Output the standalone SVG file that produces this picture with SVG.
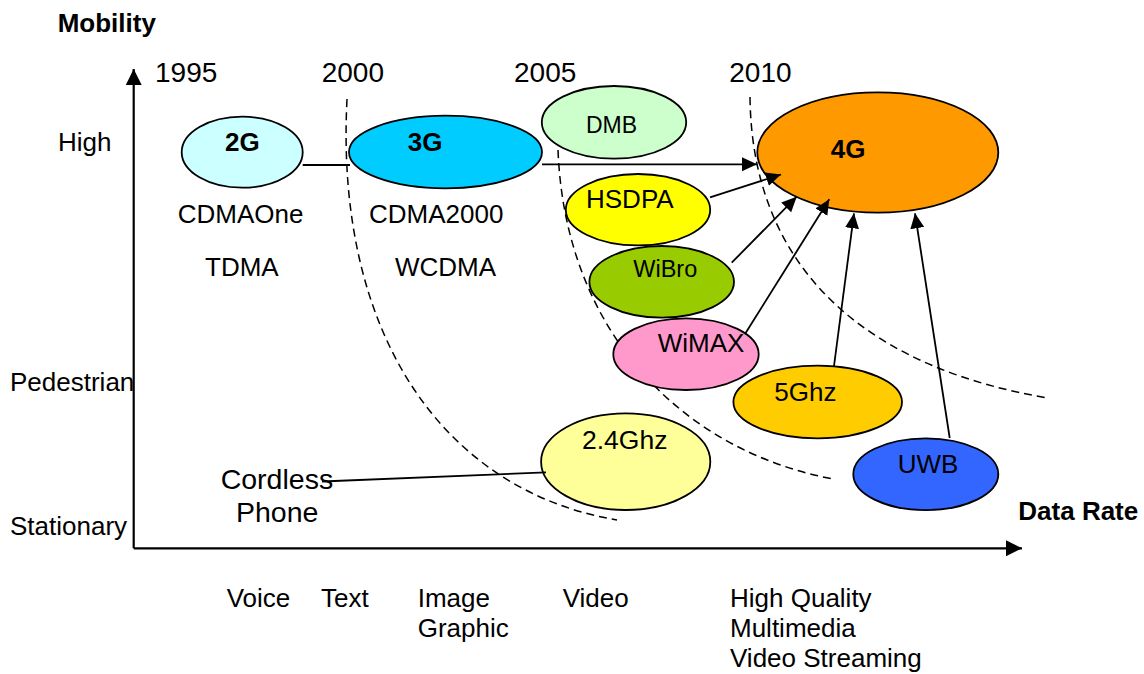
<svg xmlns="http://www.w3.org/2000/svg" width="1144" height="674" viewBox="0 0 1144 674">
<style>
text{font-family:"Liberation Sans",Arial,sans-serif;font-size:26px;fill:#000}
.b{font-weight:bold}
.yr{font-size:28px}
.node ellipse{stroke:#000;stroke-width:1.8}
.dash{fill:none;stroke:#000;stroke-width:1.5;stroke-dasharray:8 5}
.con{stroke:#000;stroke-width:1.8;fill:none}
.arr{marker-end:url(#ah)}
.axis{stroke:#000;stroke-width:2.2;fill:none}
</style>
<defs>
<marker id="ah" markerUnits="userSpaceOnUse" markerWidth="16" markerHeight="15" refX="15" refY="7" orient="auto">
<path d="M0,0 L15,7 L0,14 z" fill="#000"/>
</marker>
<marker id="axh" markerUnits="userSpaceOnUse" markerWidth="17" markerHeight="17" refX="16" refY="8" orient="auto">
<path d="M0,0 L16,8 L0,16 z" fill="#000"/>
</marker>
</defs>
<rect width="1144" height="674" fill="#fff"/>

<g id="axes">
<line class="axis" x1="133.7" y1="548.3" x2="133.7" y2="69" marker-end="url(#axh)"/>
<line class="axis" x1="133.7" y1="548.3" x2="1022" y2="548.3" marker-end="url(#axh)"/>
<text class="b" x="57.7" y="31.7">Mobility</text>
<text class="b" x="1018.3" y="520">Data Rate</text>
<text x="58" y="150.7">High</text>
<text x="10" y="390.7">Pedestrian</text>
<text x="10" y="535">Stationary</text>
</g>

<g id="years">
<text class="yr" x="155" y="81.7">1995</text>
<text class="yr" x="321.7" y="81.7">2000</text>
<text class="yr" x="514" y="81.7">2005</text>
<text class="yr" x="729.3" y="81.7">2010</text>
</g>

<g id="eras">
<path class="dash" d="M347,99 C335,330 440,490 617,520"/>
<path class="dash" d="M558,150 C565,330 680,450 833,479"/>
<path class="dash" d="M750,97 C752,280 880,370 1048,398"/>
</g>

<g id="n2G" class="node">
<ellipse cx="242.2" cy="152.2" rx="60.5" ry="35.5" fill="#CCFFFF"/>
<text class="b" x="225" y="151">2G</text>
<text x="177.7" y="222.7">CDMAOne</text>
<text x="205" y="276">TDMA</text>
</g>
<g id="n3G" class="node">
<ellipse cx="445.5" cy="152" rx="96.5" ry="36.3" fill="#00CCFF"/>
<text class="b" x="407.7" y="151">3G</text>
<text x="369" y="222.7">CDMA2000</text>
<text x="395" y="276">WCDMA</text>
</g>
<g id="nDMB" class="node">
<ellipse cx="614" cy="122.3" rx="72.2" ry="36.3" fill="#CCFFCC"/>
<text x="586" y="132.7" style="font-size:23px">DMB</text>
</g>
<g id="n4G" class="node">
<ellipse cx="877.8" cy="152.5" rx="120.5" ry="60.2" fill="#FF9900"/>
<text class="b" x="830.7" y="158.3">4G</text>
</g>
<g id="nHSDPA" class="node">
<ellipse cx="638" cy="209.7" rx="72.2" ry="35.7" fill="#FFFF00"/>
<text x="586" y="208.3">HSDPA</text>
</g>
<g id="nWiBro" class="node">
<ellipse cx="661.7" cy="281.8" rx="72.3" ry="35.8" fill="#99CC00"/>
<text x="633.3" y="277.3" style="font-size:23.5px">WiBro</text>
</g>
<g id="nWiMAX" class="node">
<ellipse cx="686" cy="354.2" rx="72.7" ry="35.8" fill="#FF99CC"/>
<text x="657.7" y="352.3">WiMAX</text>
</g>
<g id="n5Ghz" class="node">
<ellipse cx="817.7" cy="402" rx="84.3" ry="36.3" fill="#FFCC00"/>
<text x="774.3" y="400.7">5Ghz</text>
</g>
<g id="n24Ghz" class="node">
<ellipse cx="625.7" cy="461.7" rx="84.6" ry="48.3" fill="#FFFF99"/>
<text x="582" y="449" style="font-size:26.5px">2.4Ghz</text>
</g>
<g id="nUWB" class="node">
<ellipse cx="925.8" cy="474.2" rx="72.5" ry="35.9" fill="#3366FF"/>
<text x="897.7" y="472.9">UWB</text>
</g>
<g id="nCordless">
<text x="220.7" y="489" style="font-size:28.5px">Cordless</text>
<text x="236" y="522.3" style="font-size:28.5px">Phone</text>
</g>

<g id="connectors">
<line class="con" x1="302.7" y1="165" x2="350" y2="165"/>
<line class="con arr" x1="542" y1="164.3" x2="757" y2="164.3"/>
<line class="con arr" x1="710" y1="197.3" x2="781" y2="174.5"/>
<line class="con arr" x1="731.7" y1="262.7" x2="796.7" y2="196.7"/>
<line class="con arr" x1="745" y1="334" x2="829.3" y2="199.3"/>
<line class="con arr" x1="834" y1="366" x2="854" y2="213.3"/>
<line class="con arr" x1="949.7" y1="438" x2="915" y2="213.3"/>
<line class="con" x1="322" y1="481.5" x2="546" y2="472.3"/>
</g>

<g id="services">
<text x="226.7" y="606.7">Voice</text>
<text x="321" y="606.7">Text</text>
<text x="417.7" y="606.7">Image</text>
<text x="417.7" y="636.7">Graphic</text>
<text x="562.7" y="606.7">Video</text>
<text x="730" y="606.7">High Quality</text>
<text x="730" y="636.7">Multimedia</text>
<text x="730" y="666.7">Video Streaming</text>
</g>
</svg>
